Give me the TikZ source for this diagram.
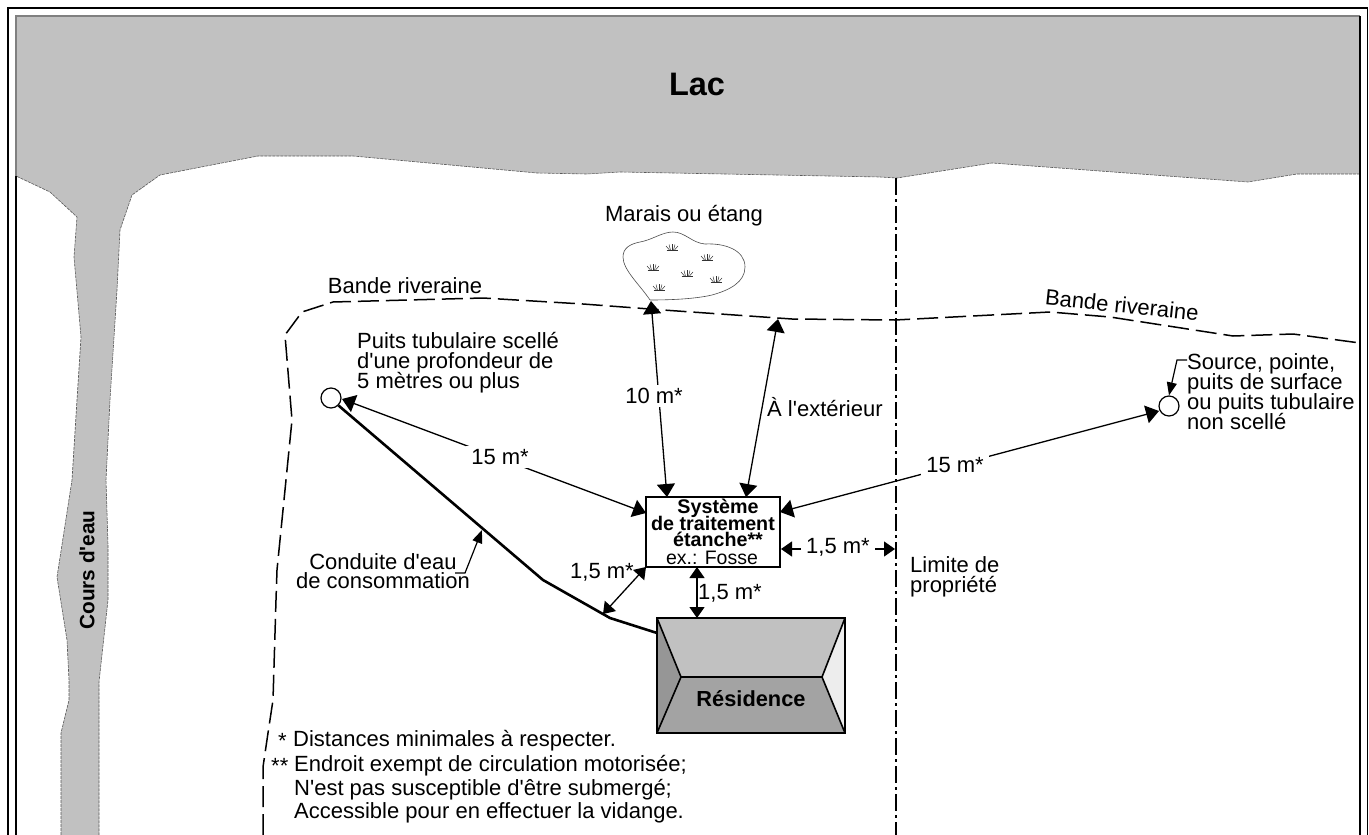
\documentclass[tikz,border=0pt]{standalone}
\usepackage{fontspec}
\setmainfont{Liberation Sans}[Ligatures=TeXOff]
\usetikzlibrary{arrows.meta}
\newcommand{\tf}[2]{\fontsize{#1}{#2}\selectfont\lineskiplimit=-50pt\relax}
\tikzset{
  x=1pt,y=-1pt,
  txt/.style={inner sep=0pt,font=\tf{22}{20},text=black},
  left txt/.style={txt,anchor=west,align=left},
  masked/.style={txt,fill=white,inner xsep=5pt,inner ysep=3pt},
  boldtxt/.style={inner sep=0pt,font=\tf{19.7}{16}\bfseries},
  darr/.style={line width=1.3pt,{Triangle[length=13pt,width=18pt]}-{Triangle[length=13pt,width=18pt]}},
  sdarr/.style={line width=1.3pt,{Triangle[length=11pt,width=15pt]}-{Triangle[length=11pt,width=15pt]}},
  leader/.style={line width=1.2pt,-{Triangle[length=13pt,width=10pt]}},
  well/.style={circle,draw,line width=1.2pt,fill=white,minimum size=20pt,inner sep=0pt},
  riveraine/.style={line width=1.5pt,dash pattern=on 21pt off 7pt},
  limite/.style={line width=1.5pt,dash pattern=on 17pt off 4pt on 3pt off 4pt},
  shore/.style={line width=0.6pt,draw=black!65,dash pattern=on 3pt off 1pt},
  tuftline/.style={line width=0.5pt,draw=black!80},
}
\newcommand{\tuft}[2]{%
  \draw[tuftline] (#1-5.5,#2+3.5) -- (#1+5.5,#2+3.5);
  \draw[tuftline] (#1,#2+3) -- (#1,#2-3);
  \draw[tuftline] (#1-1.5,#2+3) -- (#1-3,#2-2.5);
  \draw[tuftline] (#1+1.5,#2+3) -- (#1+3,#2-2.5);
  \draw[tuftline] (#1-2.5,#2+3) -- (#1-6,#2-1);
  \draw[tuftline] (#1+2.5,#2+3) -- (#1+6,#2-1);
}
\begin{document}
\begin{tikzpicture}
\useasboundingbox (0,0) rectangle (1369,835);
\fill[white] (0,0) rectangle (1369,835);
% water
\fill[black!24.5] (16,16) -- (1360,16) -- (1360,174) -- (1297,174) -- (1248,182) -- (992,163) -- (897,178) -- (880,177)
  -- (620,172) -- (587,174) -- (537,173) -- (353,156) -- (258,156) -- (160,175) -- (132,195) -- (120,230) -- (117,290)
  -- (110,400) -- (106,480) -- (108,545) -- (108,600) -- (99,682) -- (99,835) -- (61,835) -- (61,733) -- (69,700) -- (69,680)
  -- (67,640) -- (57,577) -- (72,480) -- (77,400) -- (81,337) -- (74,257) -- (77,217) -- (50,192) -- (16,176) -- cycle;
\draw[shore] (1360,174) -- (1297,174) -- (1248,182) -- (992,163) -- (897,178) -- (880,177)
  -- (620,172) -- (587,174) -- (537,173) -- (353,156) -- (258,156) -- (160,175) -- (132,195) -- (120,230) -- (117,290)
  -- (110,400) -- (106,480) -- (108,545) -- (108,600) -- (99,682) -- (99,835);
\draw[shore] (61,835) -- (61,733) -- (69,700) -- (69,680)
  -- (67,640) -- (57,577) -- (72,480) -- (77,400) -- (81,337) -- (74,257) -- (77,217) -- (50,192) -- (16,176);
% frame
\draw[line width=1.5pt] (8,840) -- (8,8) -- (1367.5,8) -- (1367.5,840);
\draw[line width=1.5pt] (16,840) -- (16,176);
\draw[line width=1.5pt,draw=black!50] (16,176) -- (16,16) -- (1360,16);
\draw[line width=1.5pt] (1360,16) -- (1360,840);
% property line, riparian strip
\draw[limite] (896,178) -- (896,835);
\draw[riveraine] (263,835) -- (263,767) -- (268,733) -- (273,700) -- (276,600) -- (277,570) -- (292,420) -- (285,335)
  -- (302,312) -- (333,302) -- (483,298) -- (583,304) -- (663,310) -- (792,319) -- (895,320) -- (1050,312) -- (1110,317)
  -- (1233,336) -- (1293,334) -- (1360,343);
% marsh
\draw[line width=0.6pt,draw=black!70] (650,300) .. controls (640,285) and (623,270) .. (623,257)
  .. controls (623,248) and (630,244) .. (640,242) .. controls (652,240) and (662,232) .. (673,232)
  .. controls (685,232) and (692,243) .. (705,244) .. controls (725,243) and (745,250) .. (745,267)
  .. controls (745,282) and (730,290) .. (712,295) .. controls (695,299) and (670,300) .. (650,300);
\tuft{672}{247}\tuft{707}{257}\tuft{653}{267}\tuft{687}{273}\tuft{716}{279}\tuft{659}{287}
% main objects
\node[draw,line width=1.5pt,fill=white,minimum width=134pt,minimum height=70pt,inner sep=0pt] (sys) at (713,532) {};
\node[boldtxt] (sysa) at (718,508) {Système};
\node[boldtxt] (sysb) at (713,523) {de traitement};
\node[boldtxt] (sysc) at (718,539) {étanche**};
\node[txt,font=\tf{19.5}{16}] (sysd) at (712,558) {ex.: Fosse};
\node[well] (wellL) at (331,398) {};
\node[well] (wellR) at (1169,406) {};
% house
\coordinate (hA) at (657,618); \coordinate (hB) at (845,618); \coordinate (hC) at (845,733); \coordinate (hD) at (657,733);
\coordinate (hE) at (681,677); \coordinate (hF) at (822,677);
\fill[black!24.5] (hA) -- (hB) -- (hF) -- (hE) -- cycle;
\fill[black!41] (hA) -- (hE) -- (hD) -- cycle;
\fill[black!36] (hD) -- (hE) -- (hF) -- (hC) -- cycle;
\fill[black!7] (hB) -- (hC) -- (hF) -- cycle;
\draw[line width=2pt,line join=miter] (hA) -- (hB) -- (hC) -- (hD) -- cycle;
\draw[line width=1.6pt] (hA) -- (hE) -- (hD) (hB) -- (hF) -- (hC) (hE) -- (hF);
\node[boldtxt,font=\tf{21.8}{20}\bfseries] (res) at (751,699) {Résidence};
% pipe
\coordinate (p1) at (543,580); \coordinate (p2) at (610,618); \coordinate (p3) at (657,633);
\draw[line width=2.6pt,line join=round] (wellL.south east) -- (p1) -- (p2) -- (p3);
% arrows
\coordinate (marsh) at (651,301); \coordinate (sysT1) at (667,497);
\coordinate (strip) at (778,319); \coordinate (sysT2) at (746,497);
\coordinate (sysL) at (646,513); \coordinate (sysR) at (780,512);
\coordinate (sysBL) at (646,567); \coordinate (pipeA) at (603,614);
\coordinate (sysB) at (697,567); \coordinate (houseT) at (697,618);
\coordinate (sysE) at (781,549); \coordinate (limE) at (895,549);
\draw[darr] (marsh) -- (sysT1);
\draw[darr] (strip) -- (sysT2);
\draw[darr] (wellL) ++(11,1) coordinate (wlA) (wlA) -- (sysL);
\draw[darr] (wellR) ++(-10,5) coordinate (wrA) (wrA) -- (sysR);
\draw[sdarr] (sysBL) -- (pipeA);
\draw[sdarr] (sysB) -- (houseT);
\draw[sdarr] (sysE) -- (limE);
\node[masked] (d10) at (654,396) {10 m*};
\node[txt,anchor=west] (dext) at (767,407) {À l'extérieur};
\node[masked] (d15a) at (500,457) {15 m*};
\node[masked] (d15b) at (955,465) {15 m*};
\node[masked] (d15c) at (838,547) {1,5 m*};
\node[txt] (l15d) at (602,572) {1,5 m*};
\node[txt] (l15e) at (730,593) {1,5 m*};
% leader arrows
\coordinate (lc1) at (455,573); \coordinate (lc2) at (465,573); \coordinate (pipeC) at (482,530);
\draw[leader] (lc1) -- (lc2) -- (pipeC);
\coordinate (ls1) at (1187,360); \coordinate (ls2) at (1177,360);
\draw[leader] (ls1) -- (ls2) -- (wellR.north);
% labels
\node[boldtxt,font=\tf{32.5}{30}\bfseries] (lac) at (697,84) {Lac};
\node[boldtxt,font=\tf{20.8}{20}\bfseries,rotate=90] (cours) at (87,570) {Cours d'eau};
\node[txt] (marais) at (684,216) {Marais ou étang};
\node[txt] (br1) at (405,286) {Bande riveraine};
\node[txt,rotate=-6] (br2) at (1122,305) {Bande riveraine};
\node[left txt] (puits) at (357,363) {Puits tubulaire scellé\\d'une profondeur de\\5 mètres ou plus};
\node[left txt] (source) at (1187,392) {Source, pointe,\\puits de surface\\ou puits tubulaire\\non scellé};
\node[txt,align=center,font=\tf{22}{18.3}] (conduite) at (383,571) {Conduite d'eau\\de consommation};
\node[left txt] (limite) at (910,577) {Limite de\\propriété};
\node[txt,anchor=west] (n1s) at (278,741) {*};
\node[left txt] (n1) at (293,741) {Distances minimales à respecter.};
\node[txt,anchor=west] (n2s) at (271,766) {**};
\node[left txt] (n2) at (294,766) {Endroit exempt de circulation motorisée;};
\node[left txt] (n3) at (294,790) {N'est pas susceptible d'être submergé;};
\node[left txt] (n4) at (294,813) {Accessible pour en effectuer la vidange.};
\end{tikzpicture}
\end{document}
